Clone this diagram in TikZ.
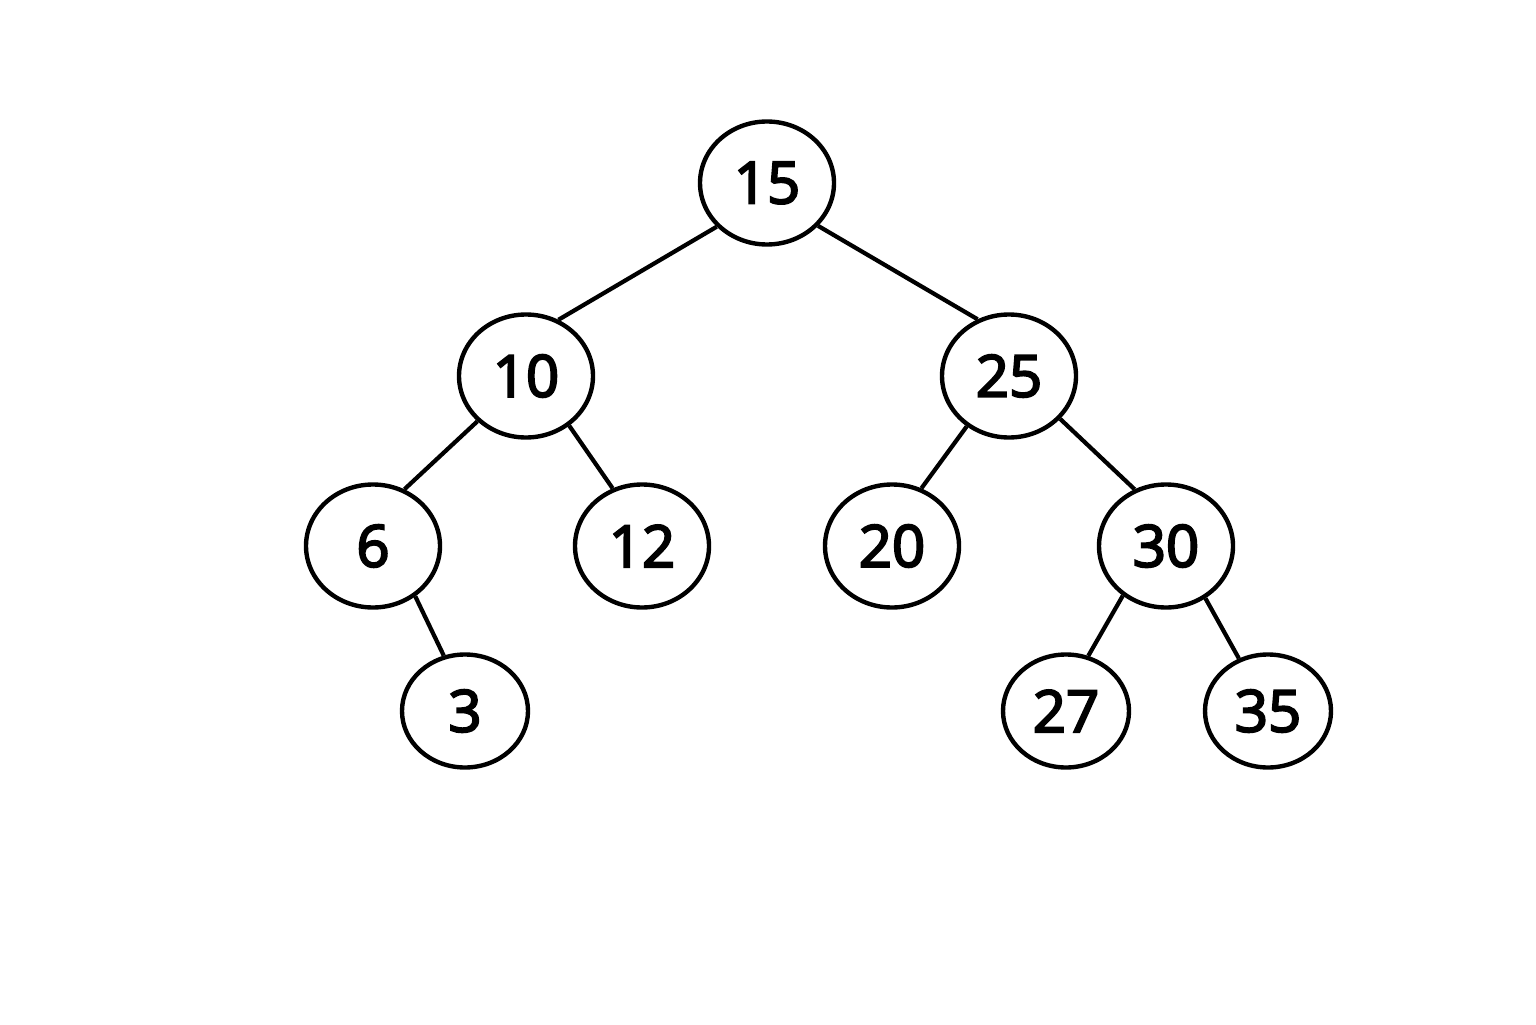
\documentclass[tikz,border=0pt]{standalone}
\usepackage{fontspec}
\setmainfont{Open Sans}
\newfontfamily\numfont[FakeBold=3.5]{Open Sans}
\usetikzlibrary{shapes.geometric}

\tikzset{
 bnode/.style={ellipse, draw, line width=1.25pt, inner sep=0pt,
   minimum width=1.34cm, minimum height=1.23cm,
   font=\numfont\fontsize{16.5}{18}\selectfont},
 leaf/.style={bnode, minimum width=1.26cm, minimum height=1.13cm},
 edge/.style={line width=1.2pt}
}

\begin{document}
\begin{tikzpicture}
 \useasboundingbox (0,0) rectangle (15.36,10.24);
 \node[bnode] (n15) at (7.67,8.41) {15};
 \node[bnode] (n10) at (5.26,6.48) {10};
 \node[bnode] (n25) at (10.09,6.48) {25};
 \node[bnode] (n6) at (3.73,4.78) {6};
 \node[bnode] (n12) at (6.42,4.78) {12};
 \node[bnode] (n20) at (8.92,4.78) {20};
 \node[bnode] (n30) at (11.66,4.78) {30};
 \node[leaf] (n3) at (4.65,3.13) {3};
 \node[leaf] (n27) at (10.66,3.13) {27};
 \node[leaf] (n35) at (12.68,3.13) {35};
 \draw[edge] (n15.221) -- (n10.60);
 \draw[edge] (n15.320) -- (n25.119);
 \draw[edge] (n10.223) -- (n6.61);
 \draw[edge] (n10.311) -- (n12.117);
 \draw[edge] (n25.230) -- (n20.63);
 \draw[edge] (n25.320) -- (n30.119);
 \draw[edge] (n6.310) -- (n3.111);
 \draw[edge] (n30.229) -- (n27.68);
 \draw[edge] (n30.307) -- (n35.119);
\end{tikzpicture}
\end{document}
